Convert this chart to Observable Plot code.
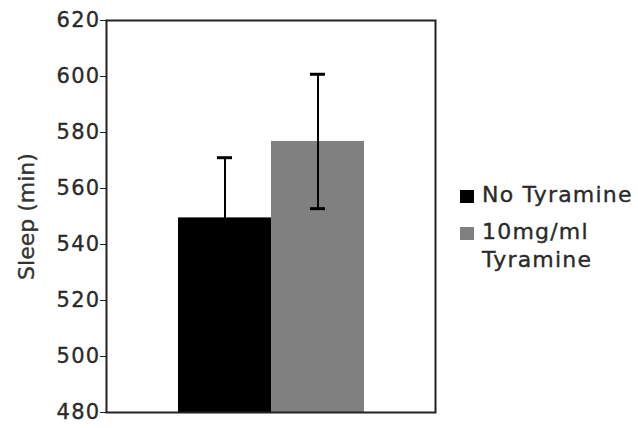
<!DOCTYPE html>
<html>
<head>
<meta charset="utf-8">
<script src="https://cdn.jsdelivr.net/npm/d3@7"></script>
<script src="https://cdn.jsdelivr.net/npm/@observablehq/plot@0.6"></script>
<style>
  html, body { margin: 0; padding: 0; background: #fff; }
  #wrap { position: relative; width: 638px; height: 428px; font-family: "DejaVu Sans", Verdana, sans-serif; }
  #legend { position: absolute; left: 460px; top: 181.4px; font-size: 22px; letter-spacing: 1.2px; color: #2a2a2a; line-height: 28px; -webkit-text-stroke: 0.35px #2a2a2a; }
  .item { display: flex; align-items: flex-start; margin-bottom: 9px; }
  .sw { width: 14px; height: 13px; margin-right: 8px; margin-top: 8.6px; flex: none; }
  g[aria-label="y-axis tick label"] { font-size: 21px !important; letter-spacing: 1.3px; }
  g[aria-label="y-axis tick label"] text { font-size: 21px !important; stroke: #2a2a2a; stroke-width: 0.35px; }
  g[aria-label="text"] text { stroke: #333; stroke-width: 0.35px; }
</style>
</head>
<body>
<div id="wrap"><div id="legend"></div></div>
<script>
const groups = ["No Tyramine", "10mg/ml Tyramine"];
const legendLines = [["No Tyramine"], ["10mg/ml", "Tyramine"]];
const means = [549.5, 576.8];
const errors = [21.5, 24];
const colors = ["#000000", "#808080"];
const yTicks = [480, 500, 520, 540, 560, 580, 600, 620];

const data = groups.map((g, i) => ({group: g, mean: means[i], lo: means[i] - errors[i], hi: means[i] + errors[i]}));

const chart = Plot.plot({
  width: 638,
  height: 428,
  marginLeft: 106,
  marginRight: 203,
  marginTop: 20,
  marginBottom: 16,
  style: {fontFamily: "DejaVu Sans, Verdana, sans-serif", fontSize: "21px", color: "#2a2a2a", background: "white"},
  x: {domain: groups, paddingInner: 0, paddingOuter: 0.76, axis: null},
  y: {domain: [480, 620], ticks: yTicks, label: null},
  color: {domain: groups, range: colors},
  marks: [
    Plot.barY(data, {x: "group", y1: 480, y2: "mean", fill: "group"}),
    Plot.ruleX(data, {x: "group", y1: "lo", y2: "hi", stroke: "#000", strokeWidth: 2}),
    Plot.tickY(data, {x: "group", y: "hi", stroke: "#000", strokeWidth: 3, insetLeft: 39, insetRight: 39}),
    Plot.tickY(data, {x: "group", y: "lo", stroke: "#000", strokeWidth: 3, insetLeft: 39, insetRight: 39}),
    Plot.frame({stroke: "#222", strokeWidth: 2}),
    Plot.axisY({ticks: yTicks, tickSize: 6, tickPadding: 0, stroke: "#222", fill: "#2a2a2a", label: null, fontSize: 21}),
    Plot.text(["Sleep (min)"], {frameAnchor: "left", textAnchor: "middle", dx: -80, rotate: -90, fill: "#333", fontSize: 22})
  ]
});
document.getElementById("wrap").prepend(chart);

const legend = document.getElementById("legend");
legendLines.forEach((lines, i) => {
  const item = document.createElement("div");
  item.className = "item";
  const sw = document.createElement("div");
  sw.className = "sw";
  sw.style.background = colors[i];
  const t = document.createElement("div");
  t.innerHTML = lines.join("<br>");
  item.appendChild(sw);
  item.appendChild(t);
  legend.appendChild(item);
});
</script>
</body>
</html>
